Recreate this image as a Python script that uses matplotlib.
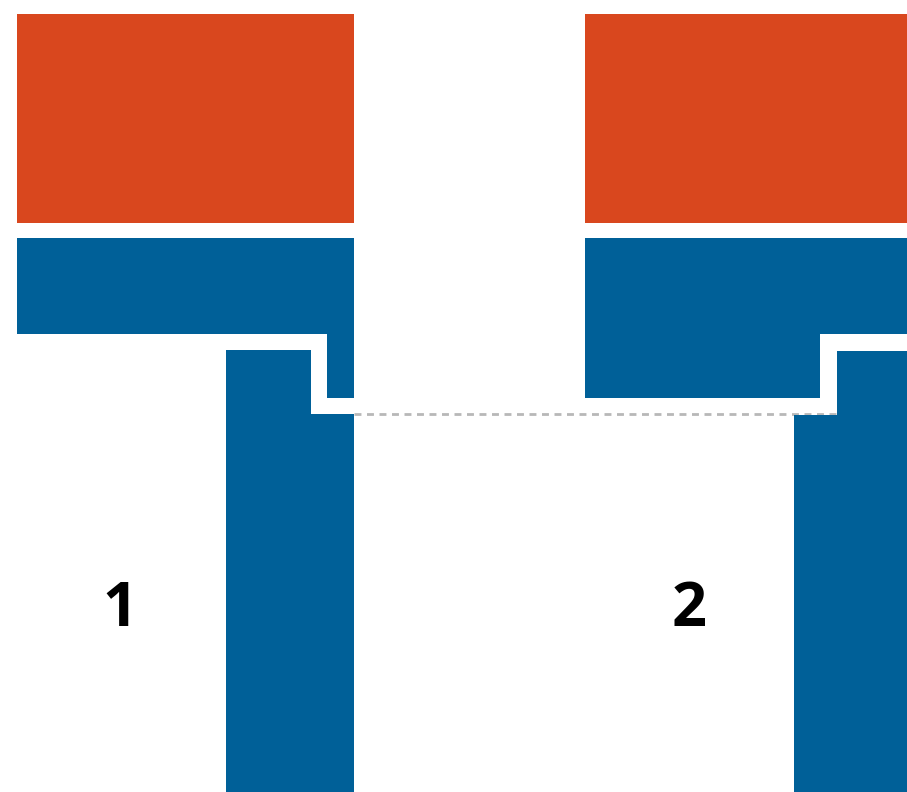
import matplotlib.pyplot as plt
from matplotlib.patches import Polygon, Rectangle

# Block outlines, in picture units (x to the right, y downwards)
labels = ["1", "2"]
label_pos = [(120, 611), (689, 611)]

orange_blocks = [(17, 14, 354, 223), (585, 14, 907, 223)]

upper_blue = [
    [(17, 238), (354, 238), (354, 398), (327, 398), (327, 334), (17, 334)],
    [(585, 238), (907, 238), (907, 334), (820, 334), (820, 398), (585, 398)],
]
lower_blue = [
    [(226, 350), (311, 350), (311, 414), (354, 414), (354, 792), (226, 792)],
    [(837, 351), (907, 351), (907, 792), (794, 792), (794, 415), (837, 415)],
]
dash_y = 414
dash_x = (354, 836)

orange = "#d9471e"
blue = "#006098"

fig = plt.figure(figsize=(9.07, 7.92), dpi=100)
ax = fig.add_axes([0, 0, 1, 1])
ax.set_xlim(0, 907)
ax.set_ylim(792, 0)
ax.axis("off")

for x0, y0, x1, y1 in orange_blocks:
    ax.add_patch(Rectangle((x0, y0), x1 - x0, y1 - y0, color=orange, lw=0))

for pts in upper_blue + lower_blue:
    ax.add_patch(Polygon(pts, closed=True, color=blue, lw=0))

ax.plot(dash_x, [dash_y, dash_y], color="#b8b8b8", lw=2,
        linestyle=(0, (2.5, 2)), zorder=0)

for t, (x, y) in zip(labels, label_pos):
    ax.text(x, y, t, ha="center", va="center", fontsize=44,
            fontweight="bold", family="Open Sans")

fig.savefig("out.png", dpi=100)
